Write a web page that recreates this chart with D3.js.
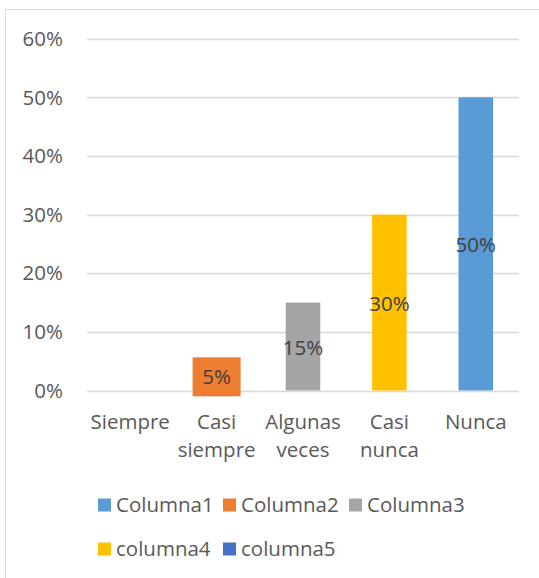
<!DOCTYPE html>
<html>
<head>
<meta charset="utf-8">
<script src="https://cdn.jsdelivr.net/npm/d3@7"></script>
<style>
  body { margin: 0; background: #fff; }
  svg text { font-family: "Open Sans", sans-serif; fill: #595959; }
</style>
</head>
<body>
<div id="chart"></div>
<script>
// chart data
var categories = [['Siempre'], ['Casi', 'siempre'], ['Algunas', 'veces'], ['Casi', 'nunca'], ['Nunca']];
var values = [0, 0.05, 0.15, 0.30, 0.50];
var barColors = ['#5b9bd5', '#ed7d31', '#a5a5a5', '#ffc000', '#5b9bd5'];
var yTicks = [0, 0.1, 0.2, 0.3, 0.4, 0.5, 0.6];
var legendNames = ['Columna1', 'Columna2', 'Columna3', 'columna4', 'columna5'];
var legendColors = ['#5b9bd5', '#ed7d31', '#a5a5a5', '#ffc000', '#4472c4'];

var W = 539, H = 578;
var FS = 20.5;
var svg = d3.select('#chart').append('svg')
  .attr('width', W)
  .attr('height', H);

// chart area border (only left/top visible in the crop)
svg.append('rect')
  .attr('x', 5.5).attr('y', 9.5)
  .attr('width', W + 10).attr('height', H + 10)
  .attr('fill', 'none')
  .attr('stroke', '#d9d9d9');

var x = d3.scaleBand()
  .domain(d3.range(categories.length))
  .range([87, 519])
  .paddingInner(0.6)
  .paddingOuter(0.3);

var y = d3.scaleLinear()
  .domain([0, 0.6])
  .range([390.5, 38.7]);

// gridlines
svg.append('g').selectAll('line')
  .data(yTicks)
  .enter().append('line')
  .attr('x1', 87).attr('x2', 519)
  .attr('y1', function(d) { return Math.round(y(d)) + 0.5; })
  .attr('y2', function(d) { return Math.round(y(d)) + 0.5; })
  .attr('stroke', '#d9d9d9')
  .attr('stroke-width', 1.3);

// y tick labels
svg.append('g').selectAll('text')
  .data(yTicks)
  .enter().append('text')
  .attr('x', 63)
  .attr('y', function(d) { return y(d); })
  .attr('dy', '.35em')
  .attr('text-anchor', 'end')
  .attr('font-size', FS)
  .text(d3.format('.0%'));

// bars
svg.append('g').selectAll('rect')
  .data(values)
  .enter().append('rect')
  .attr('x', function(d, i) { return x(i); })
  .attr('y', function(d) { return y(d); })
  .attr('width', x.bandwidth())
  .attr('height', function(d) { return y(0) - y(d); })
  .attr('fill', function(d, i) { return barColors[i]; });

// data labels (the 5% one sits on a filled box)
var labels = svg.append('g').selectAll('g')
  .data(values)
  .enter().filter(function(d) { return d > 0; })
  .append('g')
  .attr('transform', function(d) {
    return 'translate(' + (x(values.indexOf(d)) + x.bandwidth() / 2) + ',' + (y(d / 2) + 1) + ')';
  });
labels.filter(function(d) { return d === 0.05; })
  .append('rect')
  .attr('x', -24).attr('y', -19.5)
  .attr('width', 48).attr('height', 39)
  .attr('fill', '#ed7d31');
labels.append('text')
  .attr('text-anchor', 'middle')
  .attr('dy', '.35em')
  .attr('font-size', FS)
  .style('fill', '#404040')
  .text(d3.format('.0%'));

// category labels
var cat = svg.append('g').selectAll('text')
  .data(categories)
  .enter().append('text')
  .attr('text-anchor', 'middle')
  .attr('font-size', FS)
  .attr('transform', function(d, i) {
    return 'translate(' + (x(i) + x.bandwidth() / 2) + ',422)';
  });
cat.selectAll('tspan')
  .data(function(d) { return d; })
  .enter().append('tspan')
  .attr('x', 0)
  .attr('y', function(d, j) { return j * 28; })
  .attr('dy', '.35em')
  .text(function(d) { return d; });

// legend
var legendPos = [[98, 505], [223, 505], [349, 505], [98, 549], [223, 549]];
var leg = svg.append('g').selectAll('g')
  .data(legendNames)
  .enter().append('g')
  .attr('transform', function(d, i) {
    return 'translate(' + legendPos[i][0] + ',' + legendPos[i][1] + ')';
  });
leg.append('rect')
  .attr('x', 0).attr('y', -6.5)
  .attr('width', 13).attr('height', 13)
  .attr('fill', function(d, i) { return legendColors[i]; });
leg.append('text')
  .attr('x', 18)
  .attr('dy', '.35em')
  .attr('font-size', FS)
  .text(function(d) { return d; });
</script>
</body>
</html>
